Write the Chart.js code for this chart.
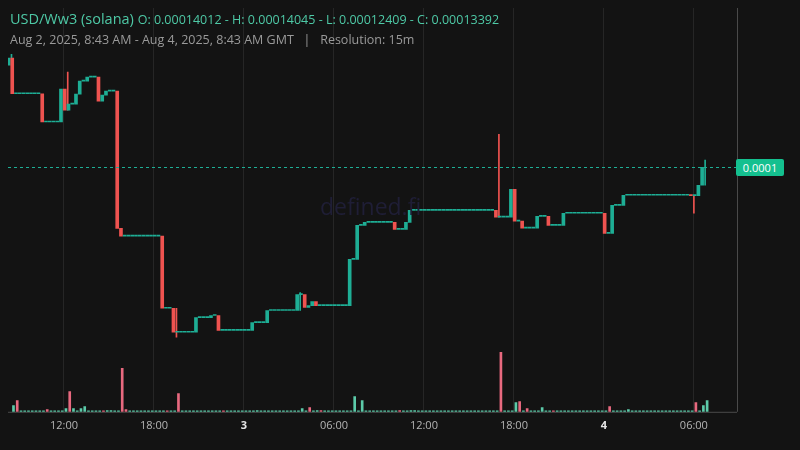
<!DOCTYPE html>
<html><head><meta charset="utf-8">
<script src="https://cdn.jsdelivr.net/npm/chart.js@4/dist/chart.umd.min.js"></script>
<style>
html,body{margin:0;padding:0;background:#131313;}
#wrap{position:relative;width:800px;height:450px;font-family:"Open Sans",sans-serif;}
#c{position:absolute;left:0;top:0;}
.t{position:absolute;white-space:pre;}
#title{left:10px;top:9px;color:#4ec9a6;font-size:14.5px;}
#title span{font-size:12.5px;}
#sub{left:10px;top:31px;color:#9a9a9a;font-size:12.5px;}
#wm{left:320px;top:190px;color:#1f1e36;font-size:23px;}
#plabel{left:736px;width:48px;height:17px;background:#14c08f;color:#fff;font-size:11px;line-height:17px;text-align:center;border-radius:2px;}
</style></head>
<body><div id="wrap">
<canvas id="c" width="800" height="450"></canvas>
<div class="t" id="wm">defined.fi</div>
<div class="t" id="title">USD/Ww3 (solana) <span>O: 0.00014012 - H: 0.00014045 - L: 0.00012409 - C: 0.00013392</span></div>
<div class="t" id="sub">Aug 2, 2025, 8:43 AM - Aug 4, 2025, 8:43 AM GMT   |   Resolution: 15m</div>
<div class="t" id="plabel">0.0001</div>
</div>
<script>
// 15-minute candles, index 0 = Aug 2 08:30 GMT
const opens = [
0.00013983,0.00014024,0.00013817,0.00013817,0.00013817,0.00013817,0.00013817,0.00013817,0.00013817,0.00013817,
0.00013654,0.00013654,0.00013654,0.00013654,0.00013654,0.00013844,0.00013722,0.00013757,0.00013757,0.00013815,
0.00013890,0.00013890,0.00013913,0.00013913,0.00013913,0.00013774,0.00013809,0.00013832,0.00013832,0.00013832,
0.00013039,0.00012994,0.00012994,0.00012994,0.00012994,0.00012994,0.00012994,0.00012994,0.00012994,0.00012994,
0.00012994,0.00012994,0.00012577,0.00012577,0.00012577,0.00012438,0.00012438,0.00012438,0.00012438,0.00012438,
0.00012438,0.00012523,0.00012523,0.00012523,0.00012523,0.00012535,0.00012535,0.00012449,0.00012449,0.00012449,
0.00012449,0.00012449,0.00012449,0.00012449,0.00012449,0.00012449,0.00012494,0.00012494,0.00012494,0.00012494,
0.00012564,0.00012564,0.00012564,0.00012564,0.00012564,0.00012564,0.00012564,0.00012564,0.00012656,0.00012656,
0.00012581,0.00012592,0.00012616,0.00012592,0.00012592,0.00012592,0.00012592,0.00012592,0.00012592,0.00012592,
0.00012592,0.00012592,0.00012859,0.00012859,0.00013056,0.00013056,0.00013073,0.00013073,0.00013073,0.00013073,
0.00013073,0.00013073,0.00013073,0.00013073,0.00013033,0.00013033,0.00013033,0.00013073,0.00013143,0.00013143,
0.00013143,0.00013143,0.00013143,0.00013143,0.00013143,0.00013143,0.00013143,0.00013143,0.00013143,0.00013143,
0.00013143,0.00013143,0.00013143,0.00013143,0.00013143,0.00013143,0.00013143,0.00013143,0.00013143,0.00013143,
0.00013143,0.00013104,0.00013104,0.00013104,0.00013104,0.00013265,0.00013081,0.00013081,0.00013040,0.00013040,
0.00013040,0.00013040,0.00013108,0.00013108,0.00013108,0.00013056,0.00013056,0.00013056,0.00013056,0.00013126,
0.00013126,0.00013126,0.00013126,0.00013126,0.00013126,0.00013126,0.00013126,0.00013126,0.00013126,0.00013126,
0.00013010,0.00013010,0.00013172,0.00013172,0.00013172,0.00013230,0.00013230,0.00013230,0.00013230,0.00013230,
0.00013230,0.00013230,0.00013230,0.00013230,0.00013230,0.00013230,0.00013230,0.00013230,0.00013230,0.00013230,
0.00013230,0.00013230,0.00013230,0.00013228,0.00013228,0.00013288];
const closes = [
0.00014024,0.00013817,0.00013817,0.00013817,0.00013817,0.00013817,0.00013817,0.00013817,0.00013817,0.00013654,
0.00013654,0.00013654,0.00013654,0.00013654,0.00013844,0.00013722,0.00013757,0.00013757,0.00013815,0.00013890,
0.00013890,0.00013913,0.00013913,0.00013913,0.00013774,0.00013809,0.00013832,0.00013832,0.00013832,0.00013039,
0.00012994,0.00012994,0.00012994,0.00012994,0.00012994,0.00012994,0.00012994,0.00012994,0.00012994,0.00012994,
0.00012994,0.00012577,0.00012577,0.00012577,0.00012438,0.00012438,0.00012438,0.00012438,0.00012438,0.00012438,
0.00012523,0.00012523,0.00012523,0.00012523,0.00012535,0.00012535,0.00012449,0.00012449,0.00012449,0.00012449,
0.00012449,0.00012449,0.00012449,0.00012449,0.00012449,0.00012494,0.00012494,0.00012494,0.00012494,0.00012564,
0.00012564,0.00012564,0.00012564,0.00012564,0.00012564,0.00012564,0.00012564,0.00012656,0.00012656,0.00012581,
0.00012592,0.00012616,0.00012592,0.00012592,0.00012592,0.00012592,0.00012592,0.00012592,0.00012592,0.00012592,
0.00012592,0.00012859,0.00012859,0.00013056,0.00013056,0.00013073,0.00013073,0.00013073,0.00013073,0.00013073,
0.00013073,0.00013073,0.00013073,0.00013033,0.00013033,0.00013033,0.00013073,0.00013143,0.00013143,0.00013143,
0.00013143,0.00013143,0.00013143,0.00013143,0.00013143,0.00013143,0.00013143,0.00013143,0.00013143,0.00013143,
0.00013143,0.00013143,0.00013143,0.00013143,0.00013143,0.00013143,0.00013143,0.00013143,0.00013143,0.00013143,
0.00013104,0.00013104,0.00013104,0.00013104,0.00013265,0.00013081,0.00013081,0.00013040,0.00013040,0.00013040,
0.00013040,0.00013108,0.00013108,0.00013108,0.00013056,0.00013056,0.00013056,0.00013056,0.00013126,0.00013126,
0.00013126,0.00013126,0.00013126,0.00013126,0.00013126,0.00013126,0.00013126,0.00013126,0.00013126,0.00013010,
0.00013010,0.00013172,0.00013172,0.00013172,0.00013230,0.00013230,0.00013230,0.00013230,0.00013230,0.00013230,
0.00013230,0.00013230,0.00013230,0.00013230,0.00013230,0.00013230,0.00013230,0.00013230,0.00013230,0.00013230,
0.00013230,0.00013230,0.00013228,0.00013228,0.00013288,0.00013392];
// wicks: [index, low, high]
const wicks = [[0,0.00013983,0.00014045],[15,0.00013722,0.00013942],[44,0.00012409,0.00012577],
[77,0.00012564,0.00012668],[130,0.00013104,0.00013583],[182,0.00013126,0.00013230],[185,0.00013288,0.00013433]];
const volumes = [
6.3,11.3,0,0,0,0,0,0,0,2.3, 0,0,0,0,3.3,20.3,3.3,0,3.3,5.3, 0,0,0,0,0,1.3,1.3,0,0,43.3,
2.3,0,0,0,0,0,0,0,0,0, 0,1,0,0,18.3,0,0,0,0,0, 0,0,0,0,0,0,0,0,0,0,
0,0,0,0,0,1.3,0,0,0,0, 0,0,0,0,0,0,0,3.3,0,4.3, 0,1.3,1.3,0,0,0,0,0,0,0,
0,15.3,0,11.3,0,0,0,0,0,0, 0,0,0,1.3,0,0,1.3,1.3,0,0, 0,0,0,0,0,0,0,0,0,0,
0,0,0,0,0,0,0,0,0,0, 59.3,0,0,0,9.3,10.3,0,3.3,0,0, 0,4.3,0,0,1,0,0,0,0,0,
0,0,0,0,0,0,0,0,0,5.3, 0,0,0,0,2.3,0,0,0,0,0, 0,0,0,0,0,0,0,0,0,0,
0,0,9.3,0,6.3,11.3];
const tickIdx = [14,38,62,86,110,134,158,182];
const tickLabels = ['12:00','18:00','3','06:00','12:00','18:00','4','06:00'];
const dayTicks = ['3','4'];

const GREEN='#1eae95', RED='#ef5350', VG='#5ccaa9', VR='#e8697f';
const isDown = i => closes[i] < opens[i];
const bodies = opens.map((o,i)=>({x:i,y:[o,closes[i]]}));
const wickData = wicks.map(w=>({x:w[0],y:[w[1],w[2]]}));
const volData = volumes.map((v,i)=>({x:i,y:v}));
const last = closes[closes.length-1];

const deco = {
  id:'deco',
  beforeDatasetsDraw(ch){
    const {ctx,chartArea:a}=ch;
    ctx.save();
    ctx.strokeStyle='#4a4a4a';ctx.lineWidth=1;
    ctx.beginPath();ctx.moveTo(a.right+0.5,a.top);ctx.lineTo(a.right+0.5,a.bottom);
    ctx.moveTo(a.left,a.bottom+0.5);ctx.lineTo(a.right,a.bottom+0.5);ctx.stroke();
    ctx.restore();
  },
  afterDatasetsDraw(ch){
    const {ctx,chartArea:a}=ch;
    const y=Math.round(ch.scales.y.getPixelForValue(last))+0.5;
    ctx.save();ctx.strokeStyle=GREEN;ctx.setLineDash([3,3]);ctx.lineWidth=1;
    ctx.beginPath();ctx.moveTo(a.left,y);ctx.lineTo(a.right,y);ctx.stroke();ctx.restore();
    const lb=document.getElementById('plabel');lb.style.top=(y-8.5)+'px';
  }
};

new Chart(document.getElementById('c'),{
  type:'bar',
  data:{datasets:[
    {data:volData,yAxisID:'v',barThickness:2,minBarLength:1,
     backgroundColor:volumes.map((v,i)=>isDown(i)?VR:VG),order:3},
    {data:wickData,yAxisID:'y',barThickness:1,
     backgroundColor:wicks.map(w=>isDown(w[0])?RED:GREEN),order:2},
    {data:bodies,yAxisID:'y',barThickness:3,minBarLength:1,
     backgroundColor:opens.map((o,i)=>isDown(i)?RED:GREEN),order:1}
  ]},
  options:{
    responsive:false,animation:false,
    layout:{padding:{left:8,right:63,top:8,bottom:11}},
    plugins:{legend:{display:false},tooltip:{enabled:false}},
    scales:{
      x:{type:'linear',min:-0.93,max:193.5,offset:false,stacked:false,
        grid:{color:'#262626',drawTicks:false,offset:false},border:{display:false},
        afterBuildTicks(s){s.ticks=tickIdx.map(v=>({value:v}));},
        ticks:{padding:7,autoSkip:false,maxRotation:0,
          callback:(v)=>tickLabels[tickIdx.indexOf(v)],
          color:(c)=>dayTicks.includes(tickLabels[c.index])?'#e6e6e6':'#b5b5b5',
          font:(c)=>({family:'Open Sans',size:11,weight:dayTicks.includes(tickLabels[c.index])?'bold':'normal'})}},
      y:{display:false,min:0.00011978,max:0.00014313},
      v:{display:false,min:0,max:403}
    }
  },
  plugins:[deco]
});
</script></body></html>
